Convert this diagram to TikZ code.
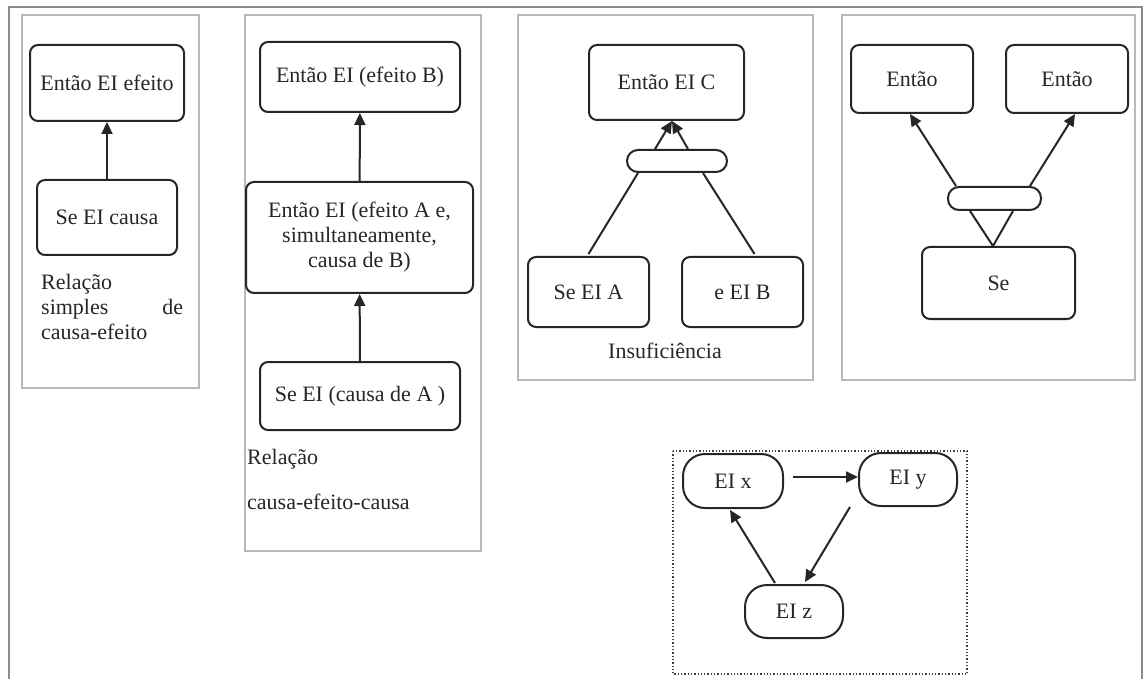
\documentclass[tikz,border=0pt]{standalone}
\usepackage{fontspec}
\setmainfont{Liberation Serif}
\usetikzlibrary{arrows.meta,calc}

\begin{document}
\begin{tikzpicture}[x=1pt,y=-1pt,
  every node/.style={font=\fontsize{22}{25}\selectfont, text=black!85},
  box/.style={draw=black!85, line width=2pt, rounded corners=8pt, inner sep=0pt, align=center},
  pill/.style={box, rounded corners=11pt},
  oval/.style={box, rounded corners=22pt},
  link/.style={draw=black!85, line width=2pt},
  arr/.style={link, -{Triangle[length=12pt,width=11pt]}},
  panel/.style={draw=black!28, line width=1.3pt},
  frameline/.style={draw=black!45, line width=2.5pt},
  cycleframe/.style={draw=black!75, line width=1.3pt, dotted},
  caption/.style={inner sep=0pt}
]
\useasboundingbox (0,0) rectangle (1144,679);

% outer frame (open at the bottom)
\draw[frameline] (9,679) -- (9,7) -- (1142,7) -- (1142,679);

% panel frames
\draw[panel] (22,15) rectangle (199,388);
\draw[panel] (245,15) rectangle (481,551);
\draw[panel] (518,15) rectangle (813,380);
\draw[panel] (842,15) rectangle (1135,380);
\draw[cycleframe] (673,451) rectangle (967,674);

% simple cause-effect
\node[box, minimum width=154pt, minimum height=76pt] (p1top) at (107,83) {Então EI efeito};
\node[box, minimum width=140pt, minimum height=75pt] (p1bot) at (107,217.5) {Se EI causa};
\draw[arr] (p1bot) -- (p1top);
\node[caption, anchor=north west, text width=142pt, align=left] (p1cap) at (41,274)
  {Relação\\ simples\hfill de\\ causa-efeito};

% cause-effect-cause chain
\node[box, minimum width=200pt, minimum height=70pt] (p2top) at (360,77) {Então EI (efeito B)};
\node[box, minimum width=227pt, minimum height=111pt] (p2mid) at (359.5,237.5)
  {Então EI (efeito A e,\\ simultaneamente,\\ causa de B)};
\node[box, minimum width=200pt, minimum height=68pt] (p2bot) at (360,396) {Se EI (causa de A )};
\draw[arr] (p2mid) -- (p2top);
\draw[arr] (p2bot) -- (p2mid);
\node[caption, anchor=north west, align=left] (p2cap) at (247,449)
  {Relação\\[20pt] causa-efeito-causa};

% insufficiency
\node[box, minimum width=155pt, minimum height=75pt] (p3top) at (666.5,82.5) {Então EI C};
\node[pill, minimum width=100pt, minimum height=22pt] (p3and) at (677,161) {};
\node[box, minimum width=121pt, minimum height=70pt] (p3a) at (588.5,292) {Se EI A};
\node[box, minimum width=121pt, minimum height=70pt] (p3b) at (742.5,292) {e EI B};
\draw[arr] ($(p3and.north)+(-22,0)$) -- ($(p3top.south)+(5.5,0)$);
\draw[arr] ($(p3and.north)+(11,0)$) -- ($(p3top.south)+(5.5,0)$);
\draw[link] ($(p3and.south)+(-39,0)$) -- ($(p3a.north)+(0,-2)$);
\draw[link] ($(p3and.south)+(26,0)$) -- ($(p3b.north)+(12,-2)$);
\node[caption] (p3cap) at (665,351) {Insuficiência};

% one cause, two effects
\node[box, minimum width=122pt, minimum height=68pt] (p4l) at (912,79) {Então};
\node[box, minimum width=122pt, minimum height=68pt] (p4r) at (1067,79) {Então};
\node[pill, minimum width=93pt, minimum height=23pt] (p4and) at (994.5,198.5) {};
\node[box, minimum width=153pt, minimum height=72pt] (p4se) at (998.5,283) {Se};
\draw[arr] ($(p4and.north)+(-38.5,0)$) -- ($(p4l.south)+(-2,0)$);
\draw[arr] ($(p4and.north)+(35.5,0)$) -- ($(p4r.south)+(8,0)$);
\draw[link] ($(p4and.south)+(-24.5,0)$) -- ($(p4se.north)+(-5.5,0)$);
\draw[link] ($(p4and.south)+(18.5,0)$) -- ($(p4se.north)+(-5.5,0)$);

% vicious cycle
\node[oval, minimum width=100pt, minimum height=54pt] (ex) at (733,481) {EI x};
\node[oval, minimum width=98pt, minimum height=53pt] (ey) at (908,479.5) {EI y};
\node[oval, minimum width=98pt, minimum height=53pt] (ez) at (794,611.5) {EI z};
\draw[arr] ($(ex.east)+(9,-4)$) -- ($(ey.west)+(0,-2.5)$);
\draw[arr] ($(ey.south)+(-58,0)$) -- ($(ez.north)+(11,-2)$);
\draw[arr] ($(ez.north)+(-19,-1)$) -- ($(ex.south)+(-3,1)$);
\end{tikzpicture}
\end{document}
